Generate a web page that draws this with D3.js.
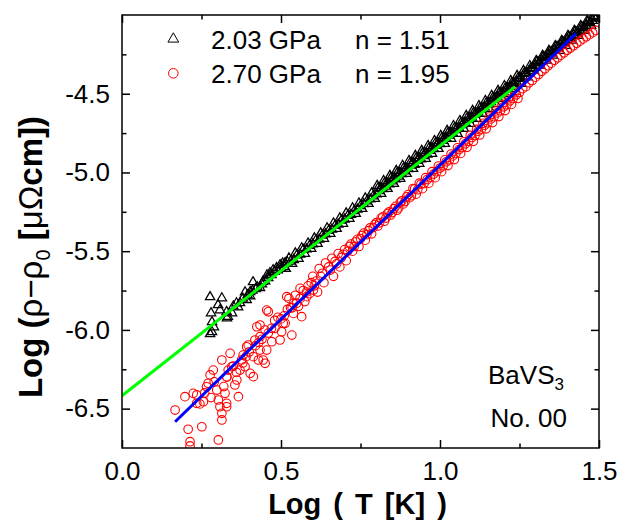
<!DOCTYPE html>
<html><head><meta charset="utf-8">
<script src="https://cdn.jsdelivr.net/npm/d3@7"></script>
<style>body{margin:0;background:#fff} text{font-family:"Liberation Sans",Arial,sans-serif}</style>
</head><body><svg id="c" width="619" height="529"></svg>
<script>
const xTicks=[0.0,0.5,1.0,1.5];
const xMinor=[0.25,0.75,1.25];
const yTicks=[-6.5,-6.0,-5.5,-5.0,-4.5];
const yMinor=[-6.25,-5.75,-5.25,-4.75,-4.25];
const seriesNames=["2.03 GPa","2.70 GPa"];
const exponents=["n = 1.51","n = 1.95"];
// 2.03 GPa (triangles) : [log T, log(rho-rho0)]
const black=[
[.277,-5.791],[.314,-5.798],[.280,-5.893],[.308,-5.874],[.283,-5.950],[.283,-6.013],[.277,-6.026],[.289,-5.982],[.330,-5.925],[.346,-5.893],
[.365,-5.855],[.387,-5.760],[.403,-5.785],[.412,-5.696],[.425,-5.728],[.440,-5.709],[.456,-5.652],[.475,-5.620],[.497,-5.588],[.302,-5.842],
[.329,-5.885],[.333,-5.916],[.371,-5.829],[.392,-5.810],[.403,-5.758],[.434,-5.734],[.443,-5.694],[.465,-5.639],[.486,-5.607],[.513,-5.575],
[.35,-5.85],[.36,-5.83],[.38,-5.80],[.395,-5.78],[.41,-5.75],[.42,-5.74],[.45,-5.69],[.46,-5.67],[.47,-5.65],[.48,-5.63],[.49,-5.62],
[0.50,-5.610],[0.51,-5.600],[0.52,-5.570],[0.53,-5.565],[0.54,-5.555],[0.55,-5.525],[0.56,-5.520],[0.57,-5.490],[0.58,-5.488],[0.59,-5.465],
[0.60,-5.455],[0.61,-5.430],[0.62,-5.425],[0.63,-5.400],[0.64,-5.392],[0.65,-5.370],[0.66,-5.362],[0.67,-5.338],[0.68,-5.330],[0.69,-5.305],
[0.70,-5.298],[0.71,-5.275],[0.72,-5.268],[0.73,-5.245],[0.74,-5.235],[0.75,-5.212],[0.76,-5.200],[0.77,-5.183],[0.78,-5.170],[0.79,-5.150],
[0.80,-5.138],[0.81,-5.118],[0.82,-5.105],[0.83,-5.088],[0.84,-5.075],[0.85,-5.055],[0.86,-5.043],[0.87,-5.025],[0.88,-5.010],[0.89,-4.992],
[0.90,-4.978],[0.91,-4.955],[0.92,-4.950],[0.93,-4.925],[0.94,-4.915],[0.95,-4.895],[0.96,-4.885],[0.97,-4.862],[0.98,-4.850],[0.99,-4.830],
[1.00,-4.818],[1.01,-4.798],[1.02,-4.782],[1.03,-4.765],[1.04,-4.750],[1.05,-4.730],[1.06,-4.718],[1.07,-4.698],[1.08,-4.685],[1.09,-4.665],
[1.10,-4.650],[1.11,-4.632],[1.12,-4.618],[1.13,-4.600],[1.14,-4.585],[1.15,-4.568],[1.16,-4.552],[1.17,-4.535],[1.18,-4.520],[1.19,-4.503],
[1.20,-4.488],[1.21,-4.470],[1.22,-4.455],[1.23,-4.438],[1.24,-4.422],[1.25,-4.405],[1.26,-4.388],[1.27,-4.372],[1.28,-4.355],[1.29,-4.338],
[1.30,-4.320],[1.31,-4.303],[1.32,-4.288],[1.33,-4.268],[1.34,-4.252],[1.35,-4.235],[1.36,-4.220],[1.37,-4.203],[1.38,-4.188],[1.39,-4.172],
[1.40,-4.156],[1.41,-4.142],[1.42,-4.126],[1.43,-4.110],[1.44,-4.096],[1.45,-4.080],[1.46,-4.066],[1.47,-4.050],[1.48,-4.036],[1.49,-4.022],
[0.505,-5.577],[0.515,-5.611],[0.525,-5.545],[0.535,-5.579],[0.545,-5.513],[0.555,-5.547],[0.565,-5.481],[0.575,-5.516],[0.585,-5.450],[0.595,-5.484],
[0.605,-5.418],[0.615,-5.452],[0.625,-5.386],[0.635,-5.420],[0.645,-5.354],[0.655,-5.389],[0.665,-5.323],[0.675,-5.357],[0.685,-5.291],[0.695,-5.325],
[0.705,-5.259],[0.715,-5.293],[0.725,-5.227],[0.735,-5.262],[0.745,-5.196],[0.755,-5.230],[0.765,-5.164],[0.775,-5.198],[0.785,-5.132],[0.795,-5.166],
[0.805,-5.100],[0.815,-5.135],[0.825,-5.069],[0.835,-5.103],[0.845,-5.037],[0.855,-5.071],[0.865,-5.005],[0.875,-5.039],[0.885,-4.974],[0.895,-5.008],
[0.905,-4.942],[0.915,-4.976],[0.925,-4.910],[0.935,-4.944],[0.945,-4.878],[0.955,-4.912],[0.965,-4.847],[0.975,-4.881],[0.985,-4.815],[0.995,-4.849],
[1.005,-4.783],[1.015,-4.817],[1.025,-4.751],[1.035,-4.785],[1.045,-4.720],[1.055,-4.754],[1.065,-4.688],[1.075,-4.722],[1.085,-4.656],[1.095,-4.690],
[1.105,-4.624],[1.115,-4.658],[1.125,-4.593],[1.135,-4.627],[1.145,-4.561],[1.155,-4.595],[1.165,-4.529],[1.175,-4.563],[1.185,-4.497],[1.195,-4.531],
[1.205,-4.466],[1.215,-4.500],[1.225,-4.434],[1.235,-4.468],[1.245,-4.402],[1.255,-4.436],[1.265,-4.370],[1.275,-4.395],[1.285,-4.339],[1.295,-4.353],
[1.305,-4.297],[1.315,-4.321],[1.325,-4.265],[1.335,-4.289],[1.345,-4.233],[1.355,-4.257],[1.365,-4.202],[1.375,-4.226],[1.385,-4.170],[1.395,-4.194],
[1.405,-4.138],[1.415,-4.162],[1.425,-4.106],[1.435,-4.131],[1.445,-4.075],[1.455,-4.099],[1.465,-4.043],[1.475,-4.067],[1.485,-4.011],
[0.8025,-5.084],[0.8125,-5.099],[0.8225,-5.053],[0.8325,-5.067],[0.8425,-5.021],[0.8525,-5.035],[0.8625,-4.989],[0.8725,-5.003],[0.8825,-4.957],[0.8925,-4.972],
[0.9025,-4.926],[0.9125,-4.940],[0.9225,-4.894],[0.9325,-4.908],[0.9425,-4.862],[0.9525,-4.876],[0.9625,-4.831],[0.9725,-4.845],[0.9825,-4.799],[0.9925,-4.813],
[1.0025,-4.767],[1.0125,-4.781],[1.0225,-4.735],[1.0325,-4.749],[1.0425,-4.704],[1.0525,-4.718],[1.0625,-4.672],[1.0725,-4.686],[1.0825,-4.640],[1.0925,-4.654],
[1.1025,-4.608],[1.1125,-4.622],[1.1225,-4.577],[1.1325,-4.591],[1.1425,-4.545],[1.1525,-4.559],[1.1625,-4.513],[1.1725,-4.527],[1.1825,-4.481],[1.1925,-4.495],
[1.2025,-4.450],[1.2125,-4.464],[1.2225,-4.418],[1.2325,-4.432],[1.2425,-4.386],[1.2525,-4.400],[1.2625,-4.354],[1.2725,-4.369],[1.2825,-4.323],[1.2925,-4.337],
[1.3025,-4.291],[1.3125,-4.305],[1.3225,-4.259],[1.3325,-4.273],[1.3425,-4.227],[1.3525,-4.242],[1.3625,-4.196],[1.3725,-4.210],[1.3825,-4.164],[1.3925,-4.178],
[1.4025,-4.132],[1.4125,-4.146],[1.4225,-4.100],[1.4325,-4.115],[1.4425,-4.069],[1.4525,-4.083],[1.4625,-4.037],[1.4725,-4.051],[1.4825,-4.005],[1.4925,-4.019]
];
// 2.70 GPa (circles)
const red=[
[.167,-6.509],[.198,-6.424],[.208,-6.631],[.214,-6.710],[.214,-6.737],[.251,-6.615],[.235,-6.413],[.256,-6.456],[.266,-6.361],[.277,-6.286],
[.287,-6.255],[.298,-6.382],[.303,-6.445],[.308,-6.488],[.314,-6.572],[.314,-6.530],[.329,-6.488],[.303,-6.699],[.314,-6.191],[.329,-6.297],
[.340,-6.149],[.345,-6.234],[.361,-6.318],[.366,-6.424],[.371,-6.255],[.376,-6.191],[.381,-6.160],[.387,-6.234],[.397,-6.096],[.403,-6.276],
[.413,-6.170],[.418,-6.064],[.424,-5.980],[.434,-6.128],[.444,-6.191],[.450,-6.212],[.455,-6.128],[.434,-5.969],[.460,-5.885],[.471,-6.075],
[.481,-5.990],[.497,-6.064],[.513,-5.958],[.518,-5.789],[.502,-6.012],[.224,-6.403],[.271,-6.339],[.334,-6.255],[.324,-6.403],[.329,-6.466],
[.355,-6.350],[.413,-6.297],[.429,-6.191],[.392,-6.107],[.434,-6.043],[.450,-6.001],[.534,-6.033],[.507,-5.958],[.539,-5.895],[.565,-5.916],
[.549,-5.831],[.560,-5.736],[.581,-5.789],[.602,-5.747],[.235,-6.466],[.525,-5.80],[.53,-5.86],[.545,-5.78],[.555,-5.85],[.57,-5.75],
[.575,-5.82],[.585,-5.72],[.59,-5.77],[.595,-5.70],[.455,-5.874],
[.33,-6.30],[.35,-6.23],[.36,-6.27],[.38,-6.21],[.39,-6.17],[.40,-6.14],[.42,-6.10],[.43,-6.08],[.44,-6.06],[.46,-6.02],
[.47,-5.99],[.48,-5.94],[.49,-5.92],[.50,-5.93],[.51,-5.91],[.52,-5.87],[.535,-5.86],[.54,-5.83],[.56,-5.80],[.58,-5.76],
[.29,-6.33],[.26,-6.40],[.245,-6.47],[.28,-6.43],[.32,-6.36],
[.605,-5.72],[.615,-5.76],[.625,-5.66],[.635,-5.70],[.655,-5.62],[.665,-5.66],[.675,-5.58],[.685,-5.60],[.695,-5.52],[.705,-5.56],
[.715,-5.47],[.725,-5.50],[.735,-5.44],[.745,-5.47],[.755,-5.40],[.765,-5.43],[.775,-5.37],[.785,-5.39],[.795,-5.33],[.805,-5.34],
[.815,-5.29],[.825,-5.31],[.835,-5.26],[.845,-5.27],[.855,-5.23],[.865,-5.24],[.875,-5.19],[.885,-5.20],[.895,-5.155],[.905,-5.16],
[0.60,-5.660],[0.61,-5.690],[0.62,-5.610],[0.63,-5.640],[0.64,-5.575],[0.65,-5.600],[0.66,-5.545],[0.67,-5.565],[0.68,-5.515],[0.69,-5.540],
[0.70,-5.490],[0.71,-5.500],[0.72,-5.455],[0.73,-5.470],[0.74,-5.425],[0.75,-5.420],[0.76,-5.385],[0.77,-5.395],[0.78,-5.352],[0.79,-5.350],
[0.80,-5.318],[0.81,-5.320],[0.82,-5.282],[0.83,-5.290],[0.84,-5.250],[0.85,-5.255],[0.86,-5.215],[0.87,-5.225],[0.88,-5.180],[0.89,-5.185],
[0.90,-5.140],[0.91,-5.148],[0.92,-5.105],[0.93,-5.110],[0.94,-5.075],[0.95,-5.070],[0.96,-5.045],[0.97,-5.030],[0.98,-5.010],[0.99,-4.995],
[1.00,-4.972],[1.01,-4.958],[1.02,-4.932],[1.03,-4.920],[1.04,-4.895],[1.05,-4.880],[1.06,-4.855],[1.07,-4.842],[1.08,-4.818],[1.09,-4.802],
[1.10,-4.778],[1.11,-4.765],[1.12,-4.738],[1.13,-4.725],[1.14,-4.700],[1.15,-4.685],[1.16,-4.660],[1.17,-4.646],[1.18,-4.622],[1.19,-4.608],
[1.20,-4.583],[1.21,-4.570],[1.22,-4.545],[1.23,-4.530],[1.24,-4.507],[1.25,-4.492],[1.26,-4.468],[1.27,-4.455],[1.28,-4.430],[1.29,-4.416],
[1.30,-4.395],[1.31,-4.378],[1.32,-4.358],[1.33,-4.342],[1.34,-4.322],[1.35,-4.306],[1.36,-4.288],[1.37,-4.272],[1.38,-4.255],[1.39,-4.240],
[1.40,-4.224],[1.41,-4.210],[1.42,-4.195],[1.43,-4.180],[1.44,-4.166],[1.45,-4.152],[1.46,-4.138],[1.47,-4.125],[1.48,-4.112],[1.49,-4.098],
[0.915,-5.102],[0.925,-5.138],[0.935,-5.068],[0.945,-5.103],[0.955,-5.033],[0.965,-5.068],[0.975,-4.995],[0.985,-5.033],[0.995,-4.959],[1.005,-4.995],
[1.015,-4.920],[1.025,-4.956],[1.035,-4.883],[1.045,-4.918],[1.055,-4.843],[1.065,-4.879],[1.075,-4.805],[1.085,-4.840],[1.095,-4.765],[1.105,-4.802],
[1.115,-4.727],[1.125,-4.762],[1.135,-4.688],[1.145,-4.723],[1.155,-4.648],[1.165,-4.683],[1.175,-4.609],[1.185,-4.645],[1.195,-4.571],[1.205,-4.607],
[1.215,-4.533],[1.225,-4.568],[1.235,-4.494],[1.245,-4.530]
];
const fitGreen=[[0.0,-6.418],[1.236,-4.456]];
const fitBlue=[[0.167,-6.583],[1.428,-4.117]];

const svg=d3.select("#c");
const L=122,R=599,T=15,B=448;
const x=d3.scaleLinear().domain([0,1.5]).range([L,R]);
const y=d3.scaleLinear().domain([-6.75,-4.0]).range([B,T]);

svg.append("clipPath").attr("id","clip").append("rect").attr("x",L).attr("y",T).attr("width",R-L).attr("height",B-T);
const plot=svg.append("g").attr("clip-path","url(#clip)");
const tri=d3.symbol().type(d3.symbolTriangle).size(38);
plot.append("g").selectAll("path").data(black).join("path")
 .attr("d",tri).attr("transform",d=>`translate(${x(d[0])},${y(d[1])})`)
 .attr("fill","none").attr("stroke","#000").attr("stroke-width",1.25);
plot.append("g").selectAll("circle").data(red).join("circle")
 .attr("cx",d=>x(d[0])).attr("cy",d=>y(d[1])).attr("r",4.3)
 .attr("fill","none").attr("stroke","#ff0000").attr("stroke-width",1.1);
const line=d3.line().x(d=>x(d[0])).y(d=>y(d[1]));
plot.append("path").datum(fitGreen).attr("d",line).attr("stroke","#00ff00").attr("stroke-width",3).attr("fill","none");
plot.append("path").datum(fitBlue).attr("d",line).attr("stroke","#0000ff").attr("stroke-width",3).attr("fill","none");

function ax(gen,tr,ticks,size,lab,pad){
  const g=svg.append("g").attr("transform",tr).call(gen.tickValues(ticks).tickSize(size).tickPadding(pad).tickFormat(lab?d3.format(".1f"):""));
  g.select(".domain").remove();
  g.selectAll("line").attr("stroke","#000").attr("stroke-width",1.5);
  g.selectAll("text").attr("font-size",26).attr("fill","#000").attr("font-family","Liberation Sans, Arial, sans-serif");
  return g;
}
ax(d3.axisBottom(x),`translate(0,${B})`,xTicks,-8,true,13.5);
ax(d3.axisBottom(x),`translate(0,${B})`,xMinor,-4.5,false,0);
ax(d3.axisTop(x),`translate(0,${T})`,xTicks,-8,false,0);
ax(d3.axisTop(x),`translate(0,${T})`,xMinor,-4.5,false,0);
const yl=ax(d3.axisLeft(y),`translate(${L},0)`,yTicks,-8,true,12);
yl.selectAll("text").text(d=>d3.format(".1f")(d).replace("−","-"));
ax(d3.axisLeft(y),`translate(${L},0)`,yMinor,-4.5,false,0);
ax(d3.axisRight(y),`translate(${R},0)`,yTicks,-8,false,0);
ax(d3.axisRight(y),`translate(${R},0)`,yMinor,-4.5,false,0);
svg.append("rect").attr("x",L).attr("y",T).attr("width",R-L).attr("height",B-T).attr("fill","none").attr("stroke","#000").attr("stroke-width",1.5);

// legend
svg.append("path").attr("d",d3.symbol().type(d3.symbolTriangle).size(50)()).attr("transform","translate(173.3,39)").attr("fill","none").attr("stroke","#000");
svg.append("circle").attr("cx",173.3).attr("cy",73.3).attr("r",4.8).attr("fill","none").attr("stroke","#ff0000");
[48.5,82.7].forEach((yy,i)=>{
  svg.append("text").attr("x",211).attr("y",yy).attr("font-size",26).text(seriesNames[i]);
  svg.append("text").attr("x",355).attr("y",yy).attr("font-size",26).text(exponents[i]);
});
// sample label
const t1=svg.append("text").attr("x",488).attr("y",383.5).attr("font-size",26);
t1.append("tspan").text("BaVS");
t1.append("tspan").attr("font-size",17).attr("dy",6).text("3");
svg.append("text").attr("x",567).attr("y",426.7).attr("font-size",26).attr("text-anchor","end").text("No. 00");

// axis titles
svg.append("text").attr("x",357.5).attr("y",513.5).attr("text-anchor","middle").attr("font-size",29).attr("font-weight","bold").attr("word-spacing",4).text("Log ( T [K] )");
const yt=svg.append("text").attr("transform","translate(42,257) rotate(-90)").attr("text-anchor","middle").attr("font-size",33).attr("font-weight","bold");
yt.append("tspan").text("Log (");
yt.append("tspan").attr("font-weight","normal").text("ρ−ρ");
yt.append("tspan").attr("font-size",20).attr("font-weight","normal").attr("dy",8).text("0");
yt.append("tspan").attr("dy",-8).text(" [");
yt.append("tspan").attr("font-weight","normal").text("μΩ");
yt.append("tspan").text("cm])");
</script></body></html>
